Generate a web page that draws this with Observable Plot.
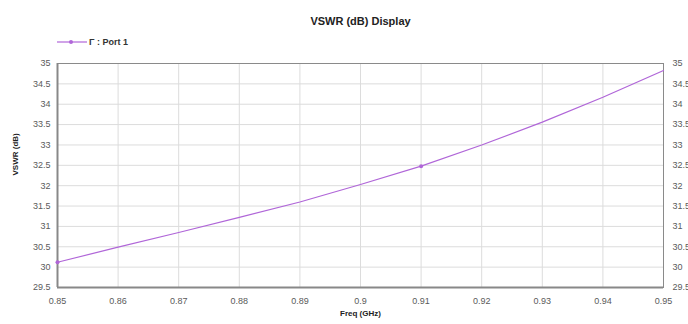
<!DOCTYPE html>
<html>
<head>
<meta charset="utf-8">
<script src="https://cdn.jsdelivr.net/npm/d3@7"></script>
<script src="https://cdn.jsdelivr.net/npm/@observablehq/plot@0.6"></script>
<style>
  html, body { margin: 0; padding: 0; background: #fff; overflow: hidden; }
  #wrap { position: relative; width: 688px; height: 324px; font-family: "Liberation Sans", Arial, sans-serif; }
  #legend { position: absolute; left: 57px; top: 37px; display: flex; align-items: center; font-size: 9px; font-weight: bold; color: #333; }
  #legend svg { margin-right: 2px; }
</style>
</head>
<body>
<div id="wrap">
  <div id="legend"><svg width="30" height="10"><line x1="0" y1="5" x2="30" y2="5" stroke="#b066d8" stroke-width="1.2"/><circle cx="14" cy="5" r="2" fill="#b066d8"/></svg><span>Γ : Port 1</span></div>
</div>
<script>
// Frequency sweep (GHz) and VSWR (dB) for port 1
const freq = [0.85, 0.86, 0.87, 0.88, 0.89, 0.90, 0.91, 0.92, 0.93, 0.94, 0.95];
const vswr = [30.12, 30.49, 30.85, 31.22, 31.60, 32.03, 32.48, 33.00, 33.56, 34.17, 34.83];

// Marker positions on the trace
const markerFreq = [0.85, 0.91];
const markerVswr = [30.12, 32.48];

const xTicks = [0.85, 0.86, 0.87, 0.88, 0.89, 0.9, 0.91, 0.92, 0.93, 0.94, 0.95];
const yTicks = [29.5, 30, 30.5, 31, 31.5, 32, 32.5, 33, 33.5, 34, 34.5, 35];

const trace = freq.map((f, i) => ({f, v: vswr[i]}));
const markers = markerFreq.map((f, i) => ({f, v: markerVswr[i]}));
const fmt = d => String(Math.round(d * 100) / 100);
const lineColor = "#b066d8";

const chart = Plot.plot({
  width: 688,
  height: 324,
  marginLeft: 57,
  marginRight: 25,
  marginTop: 63,
  marginBottom: 37,
  style: {fontFamily: "'Liberation Sans', Arial, sans-serif", fontSize: "9px", color: "#5a5a5a", background: "transparent"},
  x: {domain: [0.85, 0.95]},
  y: {domain: [29.5, 35]},
  marks: [
    Plot.gridX(xTicks, {stroke: "#dcdcdc", strokeOpacity: 1}),
    Plot.gridY(yTicks, {stroke: "#dcdcdc", strokeOpacity: 1}),
    Plot.frame({stroke: "#8a8a8a"}),
    Plot.ruleX([0.85], {stroke: "#888", strokeWidth: 2}),
    Plot.ruleY([29.5], {stroke: "#888", strokeWidth: 2}),
    Plot.axisX(xTicks, {tickSize: 0, tickPadding: 10, tickFormat: fmt, label: null}),
    Plot.axisY(yTicks, {anchor: "left", tickSize: 0, tickPadding: 7, tickFormat: fmt, label: null}),
    Plot.axisY(yTicks, {anchor: "right", tickSize: 0, tickPadding: 9, tickFormat: fmt, label: null}),
    Plot.line(trace, {x: "f", y: "v", stroke: lineColor, strokeWidth: 1.2}),
    Plot.dot(markers, {x: "f", y: "v", r: 2, fill: lineColor}),
    Plot.text(["VSWR (dB) Display"], {frameAnchor: "top", dy: -46, fontSize: 11, fontWeight: "bold", fill: "#222"}),
    Plot.text(["Freq (GHz)"], {frameAnchor: "bottom", dy: 28, fontSize: 8, fontWeight: "bold", fill: "#222"}),
    Plot.text(["VSWR (dB)"], {frameAnchor: "left", dx: -42, rotate: -90, fontSize: 8, fontWeight: "bold", fill: "#222"})
  ]
});
document.getElementById("wrap").prepend(chart);
</script>
</body>
</html>
